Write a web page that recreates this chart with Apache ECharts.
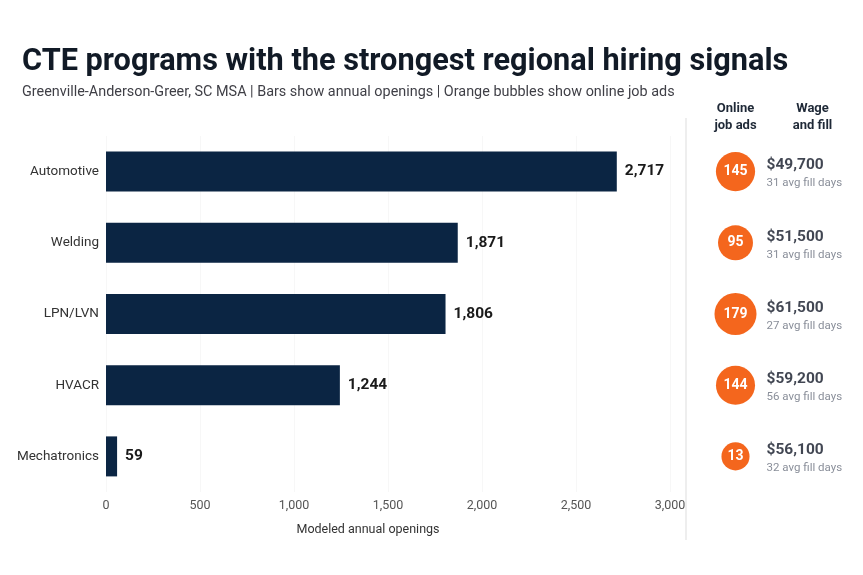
<!DOCTYPE html>
<html>
<head>
    <meta charset="UTF-8">
    <title>CTE programs - regional hiring signals</title>
    <script src="https://cdn.jsdelivr.net/npm/echarts@6/dist/echarts.min.js"></script>
    <style>
        html, body { margin: 0; padding: 0; background: #fff; }
        #main { width: 863px; height: 575px; }
    </style>
</head>
<body>
<div id="main"></div>
<script type="text/javascript">
    // data
    var programs = ['Automotive', 'Welding', 'LPN/LVN', 'HVACR', 'Mechatronics'];
    var openings = [2717, 1871, 1806, 1244, 59];
    var jobAds = [145, 95, 179, 144, 13];
    var wages = [49700, 51500, 61500, 59200, 56100];
    var fillDays = [31, 31, 27, 56, 32];
    var openingTicks = [0, 500, 1000, 1500, 2000, 2500, 3000];
    var sideColumns = ['Online\njob ads', 'Wage\nand fill'];

    var FONT = 'Roboto, "Noto Sans", sans-serif';
    var myChart = echarts.init(document.getElementById('main'));

    function fmt(v) {
        return Number(v).toLocaleString('en-US');
    }

    var option = {
        backgroundColor: '#ffffff',
        textStyle: {fontFamily: FONT},
        title: {
            text: 'CTE programs with the strongest regional hiring signals',
            subtext: 'Greenville-Anderson-Greer, SC MSA | Bars show annual openings | Orange bubbles show online job ads',
            left: 17,
            top: 42,
            itemGap: 7,
            textStyle: {fontFamily: FONT, fontSize: 30.7, fontWeight: 'bold', color: '#111a26'},
            subtextStyle: {fontFamily: FONT, fontSize: 14.4, color: '#3f3f46'}
        },
        grid: [
            {left: 106, right: 193, top: 136, height: 356},
            {left: 697, width: 154, top: 136, height: 356}
        ],
        xAxis: [
            {
                type: 'value',
                gridIndex: 0,
                min: openingTicks[0],
                max: openingTicks[openingTicks.length - 1],
                interval: openingTicks[1] - openingTicks[0],
                name: 'Modeled annual openings',
                nameLocation: 'middle',
                nameGap: 31,
                nameTextStyle: {fontSize: 12.5, color: '#333', padding: [0, 40, 0, 0]},
                axisLine: {show: false},
                axisTick: {show: false},
                axisLabel: {color: '#555', fontSize: 12.5, margin: 7, formatter: fmt},
                splitLine: {lineStyle: {color: '#f7f7f7'}}
            },
            {
                type: 'category',
                gridIndex: 1,
                position: 'top',
                data: sideColumns,
                axisLine: {show: false},
                axisTick: {show: false},
                splitLine: {show: false},
                axisLabel: {
                    color: '#1f2937', fontSize: 13, fontWeight: 'bold',
                    lineHeight: 17, margin: 2
                }
            }
        ],
        yAxis: [
            {
                type: 'category',
                gridIndex: 0,
                inverse: true,
                data: programs,
                axisLine: {show: false},
                axisTick: {show: false},
                axisLabel: {color: '#333', fontSize: 13.5, margin: 7}
            },
            {
                type: 'category',
                gridIndex: 1,
                inverse: true,
                data: programs,
                show: false
            }
        ],
        graphic: [
            {
                type: 'line',
                shape: {x1: 686, y1: 118, x2: 686, y2: 540},
                style: {stroke: '#e8e8e8', lineWidth: 1.5}
            }
        ],
        series: [
            {
                name: 'Annual openings',
                type: 'bar',
                xAxisIndex: 0,
                yAxisIndex: 0,
                data: openings,
                barWidth: 40,
                itemStyle: {color: '#0b2543'},
                label: {
                    show: true,
                    position: 'right',
                    distance: 8,
                    color: '#1a1a1a',
                    fontSize: 15.5,
                    fontWeight: 'bold',
                    formatter: function (p) { return fmt(p.value); }
                }
            },
            {
                name: 'Online job ads',
                type: 'scatter',
                xAxisIndex: 1,
                yAxisIndex: 1,
                data: jobAds.map(function (v, i) { return [sideColumns[0], programs[i], v]; }),
                symbolSize: function (d) { return 27 + d[2] * 0.084; },
                itemStyle: {color: '#f4661d', opacity: 1},
                label: {
                    show: true,
                    position: 'inside',
                    color: '#fff',
                    fontSize: 14,
                    fontWeight: 'bold',
                    formatter: function (p) { return p.value[2]; }
                }
            },
            {
                name: 'Wage and fill',
                type: 'scatter',
                xAxisIndex: 1,
                yAxisIndex: 1,
                data: wages.map(function (w, i) { return [sideColumns[1], programs[i], w, fillDays[i]]; }),
                symbolSize: 1,
                itemStyle: {color: 'rgba(0,0,0,0)'},
                label: {
                    show: true,
                    position: 'inside',
                    align: 'left',
                    offset: [-46, 2],
                    formatter: function (p) {
                        return '{a|$' + fmt(p.value[2]) + '}\n{b|' + p.value[3] + ' avg fill days}';
                    },
                    rich: {
                        a: {fontSize: 15.5, fontWeight: 'bold', color: '#111827', lineHeight: 20},
                        b: {fontSize: 11.5, color: '#6b7280', lineHeight: 16}
                    }
                }
            }
        ]
    };

    myChart.setOption(option);
</script>
</body>
</html>
